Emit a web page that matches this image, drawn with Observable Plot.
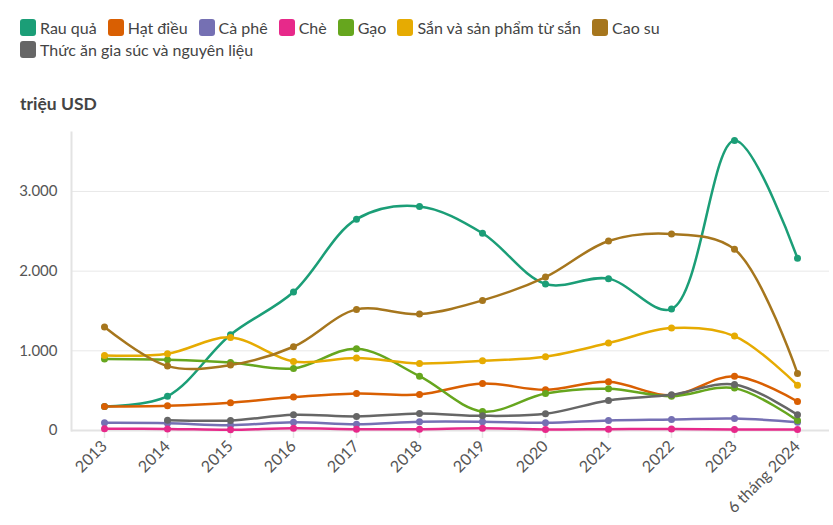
<!DOCTYPE html>
<html>
<head>
<meta charset="utf-8">
<script src="https://cdn.jsdelivr.net/npm/d3@7"></script>
<script src="https://cdn.jsdelivr.net/npm/@observablehq/plot@0.6"></script>
<style>
  html, body { margin: 0; padding: 0; background: #fff; }
  body { width: 833px; height: 525px; position: relative; overflow: hidden; font-family: Lato, "Noto Sans", sans-serif; }
  #legend { position: absolute; left: 20px; top: 18px; width: 800px; display: flex; flex-wrap: wrap; column-gap: 11px; row-gap: 3px; font-size: 16px; color: #444; }
  .item { display: flex; align-items: center; height: 19px; }
  .sw { width: 16px; height: 17px; border-radius: 3px; margin-right: 4px; }
  #unit { position: absolute; left: 20px; top: 93px; font-size: 17.5px; font-weight: bold; color: #444; }
  #chart { position: absolute; left: 0; top: 120px; }
</style>
</head>
<body>
<div id="legend"></div>
<div id="unit">triệu USD</div>
<div id="chart"></div>
<script>
const years = ["2013","2014","2015","2016","2017","2018","2019","2020","2021","2022","2023","6 tháng 2024"];
const seriesNames = ["Rau quả","Hạt điều","Cà phê","Chè","Gạo","Sắn và sản phẩm từ sắn","Cao su","Thức ăn gia súc và nguyên liệu"];
const colors = ["#1b9e77","#d95f02","#7570b3","#e7298a","#66a61e","#e6ab02","#a6761d","#666666"];
const rauQua   = [301, 431, 1202, 1738, 2652, 2811, 2475, 1839, 1906, 1524, 3640, 2161];
const hatDieu  = [301, 310, 348, 419, 465, 452, 590, 511, 612, 440, 682, 364];
const caPhe    = [96, 92, 67, 104, 79, 109, 109, 96, 126, 138, 151, 104];
const che      = [21, 20, 8, 28, 17, 17, 28, 14, 17, 20, 12, 12];
const gao      = [896, 888, 854, 779, 1026, 682, 239, 465, 524, 431, 532, 126];
const san      = [942, 963, 1168, 867, 909, 842, 875, 926, 1097, 1285, 1185, 569];
const caoSu    = [1298, 808, 821, 1051, 1520, 1461, 1633, 1926, 2378, 2466, 2274, 716];
const thucAn   = [null, 130, 126, 197, 176, 214, 184, 209, 377, 448, 578, 197];
const yTicks = [0, 1000, 2000, 3000];

const allSeries = [rauQua, hatDieu, caPhe, che, gao, san, caoSu, thucAn];
const data = [];
allSeries.forEach((vals, i) => {
  vals.forEach((v, j) => {
    if (v != null) data.push({series: seriesNames[i], year: years[j], value: v});
  });
});

// legend
const legend = document.getElementById("legend");
seriesNames.forEach((n, i) => {
  const it = document.createElement("div");
  it.className = "item";
  it.innerHTML = `<span class="sw" style="background:${colors[i]}"></span><span>${n}</span>`;
  legend.appendChild(it);
});

const locale = d3.formatLocale({decimal: ",", thousands: ".", grouping: [3], currency: ["", ""]});
const fmt = locale.format(",");

const chart = Plot.plot({
  width: 833,
  height: 405,
  marginLeft: 71,
  marginRight: 4,
  marginTop: 12,
  marginBottom: 95,
  style: {fontFamily: "Lato, 'Noto Sans', sans-serif", fontSize: "15px", background: "#fff"},
  x: {type: "point", domain: years, padding: 0.5, label: null},
  y: {domain: [0, 3740], label: null},
  color: {domain: seriesNames, range: colors},
  marks: [
    Plot.gridY(yTicks.slice(1), {stroke: "#e8e8e8", strokeOpacity: 1, strokeWidth: 1}),
    Plot.ruleY([0], {stroke: "#e3e3e3", strokeWidth: 2}),
    Plot.frame({anchor: "left", stroke: "#e3e3e3", strokeWidth: 2}),
    Plot.axisY({ticks: yTicks, tickFormat: fmt, tickSize: 0, tickPadding: 14, fill: "#555", fontSize: 15}),
    Plot.axisX({tickSize: 8, tickPadding: 5, tickRotate: -45, stroke: "#e6e6e6", strokeWidth: 1.5, fill: "#555", fontSize: 16}),
    Plot.line(data, {x: "year", y: "value", z: "series", stroke: "series", strokeWidth: 2.5, curve: "catmull-rom"}),
    Plot.dot(data, {x: "year", y: "value", fill: "series", r: 3.5})
  ]
});
document.getElementById("chart").appendChild(chart);
</script>
</body>
</html>
